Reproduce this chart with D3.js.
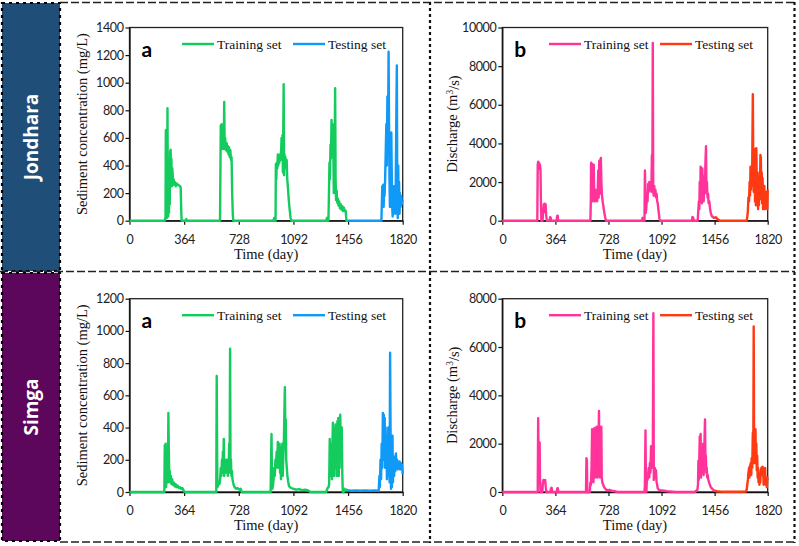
<!DOCTYPE html>
<html><head><meta charset="utf-8">
<script src="https://cdn.jsdelivr.net/npm/d3@7"></script>
<style>body{margin:0;background:#fff}svg{display:block}</style>
</head><body>
<script>
// ---------------- DATA ----------------
const xTicks = [0, 364, 728, 1092, 1456, 1820];
const yTicksJSed = [0, 200, 400, 600, 800, 1000, 1200, 1400];
const yTicksJDis = [0, 2000, 4000, 6000, 8000, 10000];
const yTicksSSed = [0, 200, 400, 600, 800, 1000, 1200];
const yTicksSDis = [0, 2000, 4000, 6000, 8000];
const stations = ["Jondhara", "Simga"];
const seriesNames = ["Training set", "Testing set"];

// Jondhara sediment concentration (mg/L) [day, value]
const jSedTrain = [[0,0],[236,0],[240,30],[242,655],[244,400],[246,660],[248,20],[251,200],[253,815],[256,100],[258,30],[261,250],[263,60],[266,380],[268,120],[271,500],[274,515],[277,300],[279,450],[282,250],[285,380],[288,330],[291,260],[294,300],[298,270],[302,280],[308,250],[315,270],[322,260],[330,255],[337,250],[341,240],[344,100],[347,0],[376,0],[379,12],[383,0],
[603,0],[606,400],[608,690],[611,600],[613,700],[616,560],[619,650],[622,520],[625,640],[628,550],[631,860],[634,520],[637,600],[640,560],[644,510],[648,560],[652,500],[656,540],[660,480],[664,530],[668,460],[672,510],[676,440],[680,460],[684,200],[688,50],[691,0],
[960,0],[963,20],[967,0],[973,0],[975,410],[978,300],[981,420],[985,380],[988,480],[991,400],[995,470],[998,420],[1002,480],[1006,440],[1010,500],[1013,600],[1016,450],[1019,620],[1022,350],[1027,990],[1030,330],[1033,480],[1036,420],[1039,460],[1043,380],[1047,440],[1051,300],[1056,230],[1061,150],[1067,80],[1073,20],[1078,0],
[1312,0],[1315,20],[1318,0],[1325,0],[1328,150],[1332,420],[1335,300],[1339,550],[1342,450],[1346,730],[1349,500],[1353,700],[1357,620],[1361,200],[1365,350],[1370,960],[1373,300],[1376,150],[1380,220],[1384,130],[1388,160],[1392,110],[1397,140],[1402,90],[1407,120],[1412,80],[1417,105],[1422,70],[1428,95],[1434,70],[1440,72],[1445,0],[1456,0]];
const jSedTest = [[1456,0],[1678,0],[1681,120],[1684,250],[1687,130],[1690,260],[1693,100],[1696,240],[1699,180],[1703,300],[1707,500],[1711,700],[1714,400],[1718,900],[1722,600],[1726,1225],[1729,700],[1732,300],[1735,100],[1738,400],[1741,200],[1744,640],[1747,350],[1750,100],[1753,30],[1756,200],[1759,50],[1762,250],[1765,80],[1768,150],[1771,50],[1774,300],[1777,700],[1781,1125],[1784,200],[1787,20],[1790,400],[1793,150],[1796,280],[1799,50],[1802,200],[1806,100],[1810,180],[1814,120],[1817,140],[1820,150]];

// Jondhara discharge (m3/s)
const jDisTrain = [[0,0],[240,0],[243,2900],[246,3050],[249,2800],[252,3000],[255,2700],[258,2900],[262,2600],[265,800],[268,0],[276,0],[280,400],[284,850],[287,500],[290,880],[294,450],[297,850],[301,300],[305,0],[325,0],[328,180],[332,150],[335,0],[373,0],[376,250],[380,260],[383,0],
[604,0],[607,1000],[609,3000],[612,1500],[615,2950],[618,1000],[621,2850],[624,1200],[627,2900],[630,1500],[634,1000],[638,1600],[642,1100],[646,1500],[650,1000],[654,1400],[658,2600],[661,1200],[665,3100],[668,1400],[672,3000],[676,3250],[680,1800],[684,1300],[688,1000],[694,700],[700,400],[706,150],[711,0],
[958,0],[962,150],[966,0],[975,0],[978,2600],[981,1500],[984,400],[988,700],[992,1400],[996,1000],[1000,1900],[1004,1500],[1008,2000],[1012,1600],[1017,1800],[1022,1500],[1026,3400],[1029,2000],[1032,9200],[1035,1500],[1038,1300],[1042,1800],[1046,1300],[1050,1600],[1054,1200],[1058,1400],[1062,1000],[1066,900],[1070,600],[1074,350],[1078,100],[1082,0],
[1300,0],[1304,200],[1309,150],[1313,0],[1340,0],[1344,500],[1348,1000],[1351,600],[1354,2000],[1357,1000],[1360,2800],[1363,1200],[1366,2600],[1369,900],[1372,2700],[1375,1500],[1378,2300],[1381,1000],[1385,2000],[1389,1400],[1393,3000],[1397,3850],[1400,1500],[1403,2000],[1407,1200],[1411,1400],[1415,900],[1420,1000],[1425,600],[1430,400],[1436,250],[1442,200],[1448,150],[1452,180],[1456,200]];
const jDisTest = [[1456,200],[1460,150],[1465,180],[1470,120],[1475,100],[1480,60],[1486,30],[1492,0],[1676,0],[1680,200],[1684,500],[1688,1200],[1692,1000],[1696,2000],[1699,1300],[1702,2800],[1705,1600],[1708,2600],[1711,1800],[1714,3000],[1718,6550],[1721,3000],[1724,1500],[1727,2800],[1730,3700],[1733,1000],[1736,3500],[1739,800],[1742,3750],[1745,2000],[1748,1200],[1751,2500],[1754,600],[1757,1500],[1760,800],[1763,2000],[1766,1100],[1770,3400],[1773,3300],[1776,1500],[1779,2500],[1782,900],[1785,2200],[1788,600],[1791,1500],[1794,1000],[1797,1800],[1801,600],[1805,1400],[1809,800],[1813,1500],[1817,600],[1820,1600]];

// Simga sediment concentration (mg/L)
const sSedTrain = [[0,0],[232,0],[235,290],[238,270],[241,300],[244,30],[248,100],[252,200],[256,60],[259,490],[262,250],[265,100],[268,130],[271,60],[275,100],[279,50],[284,80],[289,45],[294,60],[300,35],[306,50],[312,30],[320,40],[328,25],[336,30],[344,20],[352,25],[360,10],[366,0],
[578,0],[581,720],[584,200],[586,30],[590,40],[595,60],[600,50],[604,80],[608,150],[612,100],[616,200],[619,120],[622,250],[625,150],[628,330],[631,100],[634,200],[637,140],[640,180],[643,120],[646,200],[649,130],[652,170],[655,100],[658,200],[661,150],[664,300],[667,120],[670,890],[673,150],[676,200],[679,100],[682,130],[686,80],[690,60],[695,40],[700,30],[710,20],[720,25],[730,15],[740,20],[748,0],
[940,0],[946,360],[949,100],[952,20],[956,40],[960,80],[964,150],[968,100],[972,200],[976,150],[980,250],[984,180],[988,310],[991,150],[994,280],[997,200],[1000,300],[1003,120],[1006,250],[1009,80],[1012,280],[1015,150],[1018,300],[1021,100],[1024,200],[1028,300],[1035,650],[1038,400],[1041,450],[1044,200],[1048,150],[1052,100],[1056,70],[1062,40],[1068,30],[1078,25],[1090,20],[1110,15],[1130,18],[1150,12],[1170,15],[1190,10],[1205,0],
[1310,0],[1320,25],[1326,30],[1330,50],[1334,330],[1337,100],[1340,300],[1343,150],[1346,250],[1349,80],[1352,300],[1355,430],[1358,200],[1361,400],[1364,100],[1367,350],[1370,150],[1373,420],[1376,200],[1379,400],[1382,100],[1385,440],[1388,200],[1391,460],[1394,100],[1397,420],[1400,150],[1404,480],[1407,300],[1410,200],[1414,400],[1418,100],[1421,0],[1426,0],[1431,20],[1436,10],[1445,15],[1456,10]];
const sSedTest = [[1456,10],[1480,8],[1510,10],[1540,8],[1570,10],[1600,8],[1630,10],[1660,8],[1665,100],[1668,30],[1672,200],[1676,80],[1680,300],[1684,150],[1688,490],[1691,300],[1694,480],[1697,200],[1700,460],[1703,150],[1706,400],[1709,250],[1712,350],[1715,80],[1718,300],[1721,150],[1724,400],[1727,100],[1730,200],[1733,60],[1736,865],[1739,400],[1742,20],[1745,150],[1748,30],[1752,350],[1755,60],[1759,200],[1763,100],[1767,220],[1771,130],[1775,240],[1779,150],[1783,200],[1787,140],[1791,180],[1795,150],[1799,190],[1803,140],[1807,180],[1811,150],[1815,170],[1820,110]];

// Simga discharge (m3/s)
const sDisTrain = [[0,0],[243,0],[246,3050],[249,1200],[252,1800],[256,2050],[259,500],[262,0],[274,0],[278,300],[282,500],[286,420],[290,480],[294,500],[298,200],[302,0],[330,0],[334,150],[338,180],[342,0],[374,0],[377,150],[381,160],[384,0],
[574,0],[577,1400],[580,1300],[583,0],[600,0],[604,400],[608,300],[612,1000],[616,2600],[619,700],[622,1500],[625,400],[628,1100],[632,2650],[635,800],[638,1800],[641,600],[644,1200],[647,2700],[650,900],[654,600],[658,1200],[663,3350],[666,1100],[670,600],[675,1000],[679,2700],[682,600],[686,400],[692,300],[698,200],[704,150],[712,100],[722,80],[735,90],[750,50],[770,30],[790,0],
[975,0],[978,300],[982,2550],[985,200],[988,0],[992,600],[996,500],[1000,700],[1004,1000],[1008,600],[1012,1200],[1016,800],[1020,1900],[1024,1000],[1028,1500],[1032,1200],[1036,7400],[1039,500],[1042,900],[1046,1000],[1050,600],[1054,900],[1058,400],[1062,300],[1066,150],[1072,100],[1082,80],[1095,60],[1110,50],[1130,30],[1150,20],[1170,10],[1190,0],
[1320,0],[1330,50],[1338,100],[1342,300],[1345,1300],[1348,500],[1351,1400],[1354,2300],[1357,1000],[1360,2400],[1363,600],[1366,1500],[1369,800],[1372,1800],[1375,1200],[1378,2000],[1381,700],[1384,1500],[1387,2200],[1390,3000],[1393,1200],[1396,1500],[1399,800],[1402,1000],[1405,600],[1409,700],[1413,500],[1418,400],[1423,300],[1430,200],[1437,150],[1444,100],[1450,80],[1456,50]];
const sDisTest = [[1456,50],[1470,30],[1490,20],[1520,10],[1560,10],[1600,10],[1640,10],[1670,20],[1676,100],[1680,300],[1684,500],[1688,800],[1692,1000],[1695,600],[1698,1100],[1701,800],[1704,1200],[1707,700],[1710,1400],[1714,1000],[1718,2450],[1721,1200],[1724,6850],[1727,1500],[1730,2000],[1733,1200],[1736,2600],[1739,1500],[1742,2000],[1745,900],[1748,1500],[1751,600],[1754,1000],[1757,400],[1760,600],[1763,300],[1766,700],[1769,400],[1773,900],[1777,1000],[1781,700],[1785,1050],[1789,900],[1792,300],[1795,800],[1798,500],[1802,1000],[1806,300],[1810,600],[1814,200],[1817,600],[1820,500]];

// ---------------- LAYOUT / STYLE ----------------
const W = 799, H = 546;
const green = "#14CB5E", blue = "#0F9AF7", pink = "#FF3399", red = "#FF3A12";
const serif = "'Liberation Serif', 'Times New Roman', serif";
const sans = "Lato, 'Open Sans', sans-serif";

const svg = d3.select("body").append("svg").attr("width", W).attr("height", H);

const panels = [
  {left:129.5, right:402.7, top:27.5, bottom:220.7, ticks:yTicksJSed, train:jSedTrain, test:jSedTest, c1:green, c2:blue, letter:"a", kind:"sed", titleX:82, lx:182},
  {left:502.3, right:767.7, top:27.5, bottom:220.7, ticks:yTicksJDis, train:jDisTrain, test:jDisTest, c1:pink, c2:red, letter:"b", kind:"dis", titleX:452, lx:549},
  {left:129.5, right:402.7, top:298.7, bottom:492, ticks:yTicksSSed, train:sSedTrain, test:sSedTest, c1:green, c2:blue, letter:"a", kind:"sed", titleX:82, lx:182},
  {left:502.3, right:767.7, top:298.7, bottom:492, ticks:yTicksSDis, train:sDisTrain, test:sDisTest, c1:pink, c2:red, letter:"b", kind:"dis", titleX:452, lx:549}
];

panels.forEach(p => {
  const x = d3.scaleLinear().domain([0, 1820]).range([p.left, p.right]);
  const y = d3.scaleLinear().domain([0, d3.max(p.ticks)]).range([p.bottom, p.top]);
  const g = svg.append("g");

  g.append("rect").attr("x", p.left).attr("y", p.top)
    .attr("width", p.right - p.left).attr("height", p.bottom - p.top)
    .attr("fill", "none").attr("stroke", "#222").attr("stroke-width", 1.3);

  const ya = g.append("g").attr("transform", `translate(${p.left},0)`)
    .call(d3.axisLeft(y).tickValues(p.ticks).tickFormat(d3.format("d")).tickSize(4).tickSizeOuter(0).tickPadding(2));
  const xa = g.append("g").attr("transform", `translate(0,${p.bottom})`)
    .call(d3.axisBottom(x).tickValues(xTicks).tickFormat(d3.format("d")).tickSize(4).tickSizeOuter(0).tickPadding(10));
  [ya, xa].forEach(a => {
    a.selectAll(".domain").attr("stroke", "#111").attr("stroke-width", 1.3);
    a.selectAll(".tick line").attr("stroke", "#111").attr("stroke-width", 1.2);
    a.selectAll("text").attr("font-family", sans).attr("font-size", 12.5).attr("fill", "#222").attr("letter-spacing", "-0.4px");
  });

  const line = d3.line().x(d => x(d[0])).y(d => y(d[1]));
  g.append("path").datum(p.train).attr("d", line).attr("fill", "none")
    .attr("stroke", p.c1).attr("stroke-width", 2.4).attr("stroke-linejoin", "round");
  g.append("path").datum(p.test).attr("d", line).attr("fill", "none")
    .attr("stroke", p.c2).attr("stroke-width", 2.4).attr("stroke-linejoin", "round");

  // axis titles
  g.append("text").attr("x", (p.left + p.right) / 2).attr("y", p.bottom + 38)
    .attr("text-anchor", "middle").attr("font-family", serif).attr("font-size", 14.5).attr("fill", "#111")
    .text("Time (day)");
  const cy = (p.top + p.bottom) / 2;
  const yt = g.append("text").attr("transform", `translate(${p.titleX},${cy}) rotate(-90)`)
    .attr("text-anchor", "middle").attr("dy", "0.35em")
    .attr("font-family", serif).attr("font-size", 14.5).attr("fill", "#111");
  if (p.kind === "sed") {
    yt.text("Sediment concentration (mg/L)");
  } else {
    yt.append("tspan").text("Discharge (m");
    yt.append("tspan").attr("dy", "-0.4em").attr("font-size", 9.5).text("3");
    yt.append("tspan").attr("dy", "0.4em").text("/s)");
  }

  // panel letter
  g.append("text").attr("x", p.left + 12).attr("y", p.top + 29)
    .attr("font-family", sans).attr("font-weight", "bold").attr("font-size", 21).attr("fill", "#000")
    .text(p.letter);

  // legend
  const ly = p.top + 16.5;
  const legendItems = [
    {name: seriesNames[0], color: p.c1, x0: p.lx},
    {name: seriesNames[1], color: p.c2, x0: p.lx + (p.kind === "sed" ? 111 : 111)}
  ];
  legendItems.forEach(it => {
    g.append("line").attr("x1", it.x0).attr("x2", it.x0 + 32).attr("y1", ly).attr("y2", ly)
      .attr("stroke", it.color).attr("stroke-width", 2.4);
    g.append("text").attr("x", it.x0 + 35).attr("y", ly + 4.5)
      .attr("font-family", serif).attr("font-size", 13.5).attr("fill", "#111").text(it.name);
  });
});

// ---------------- FRAME / DIVIDERS ----------------
const boxes = [
  {y: 3, h: 268, fill: "#1F4E79", name: stations[0]},
  {y: 273, h: 268, fill: "#5C065C", name: stations[1]}
];
boxes.forEach(b => {
  svg.append("rect").attr("x", 2).attr("y", b.y).attr("width", 58).attr("height", b.h)
    .attr("fill", b.fill).attr("stroke", "#000").attr("stroke-width", 2.2).attr("stroke-dasharray", "3,4");
  svg.append("text").attr("transform", `translate(31,${b.y + b.h / 2}) rotate(-90)`)
    .attr("text-anchor", "middle").attr("dy", "0.36em")
    .attr("font-family", "'Open Sans', Lato, sans-serif").attr("font-weight", "bold").attr("font-size", 19)
    .attr("fill", "#fff").text(b.name);
});

const hLines = [{y: 2.5, x1: 60, x2: 795}, {y: 271.5, x1: 0, x2: 795}, {y: 542, x1: 60, x2: 795}];
hLines.forEach(l => {
  svg.append("line").attr("x1", l.x1).attr("x2", l.x2).attr("y1", l.y).attr("y2", l.y)
    .attr("stroke", "#222").attr("stroke-width", 1.6).attr("stroke-dasharray", "8,3");
});
[430, 794.5].forEach(xv => {
  svg.append("line").attr("x1", xv).attr("x2", xv).attr("y1", 2).attr("y2", 543)
    .attr("stroke", "#111").attr("stroke-width", 2.2).attr("stroke-dasharray", "3,3");
});
</script>
</body></html>
